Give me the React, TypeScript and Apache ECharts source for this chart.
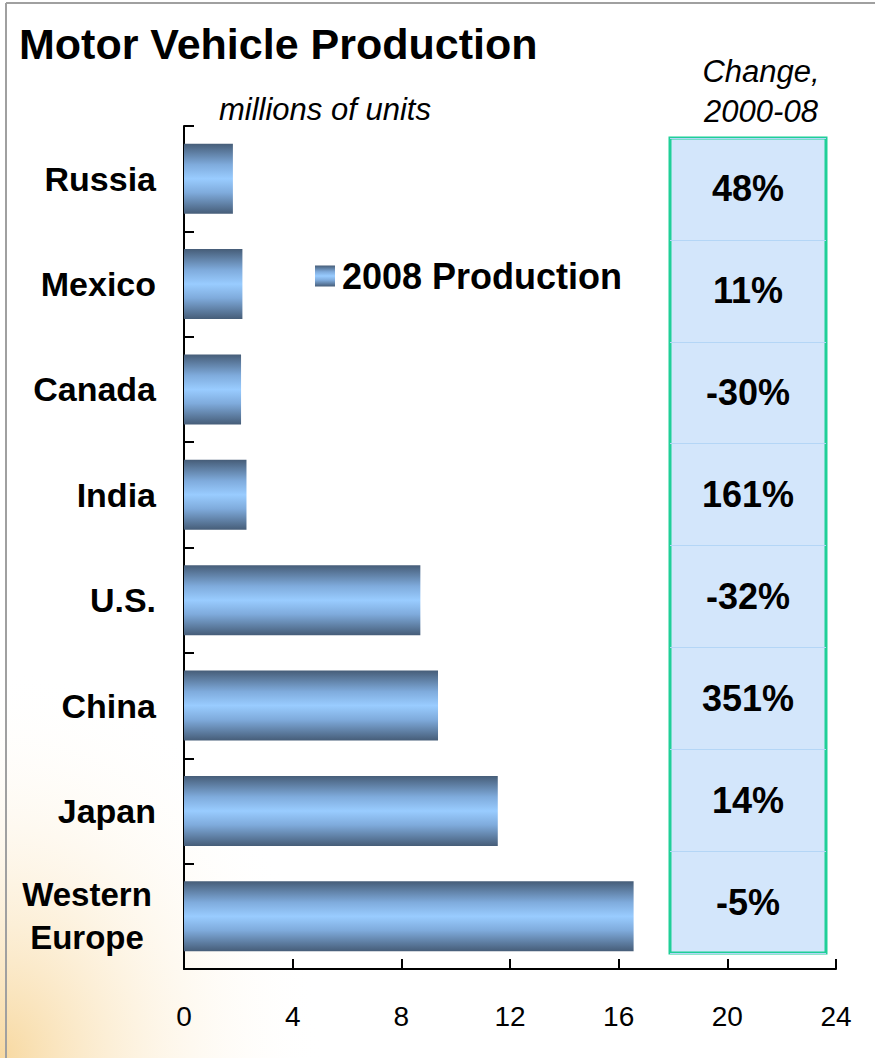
import React, { useEffect, useRef } from "react";
import * as echarts from "echarts";

const categories = ["Russia", "Mexico", "Canada", "India", "U.S.", "China", "Japan", "Western Europe"];
const production2008 = [1.8, 2.15, 2.1, 2.3, 8.7, 9.35, 11.55, 16.55];
const changes2000to08 = ["48%", "11%", "-30%", "161%", "-32%", "351%", "14%", "-5%"];
const xMin = 0;
const xMax = 24;
const xInterval = 4;

const FONT = "'Liberation Sans', Arial, Helvetica, sans-serif";

export default function App() {
  const ref = useRef<HTMLDivElement>(null);

  useEffect(() => {
    document.body.style.margin = "0";
    const chart = echarts.init(ref.current!, null, { renderer: "svg" });

    const barGradient = new echarts.graphic.LinearGradient(0, 0, 0, 1, [
      { offset: 0, color: "#465d78" },
      { offset: 0.3, color: "#7fabdc" },
      { offset: 0.5, color: "#99ccff" },
      { offset: 0.7, color: "#7fabdc" },
      { offset: 1, color: "#465d78" },
    ]);

    const option: any = {
      animation: false,
      textStyle: { fontFamily: FONT },
      graphic: [
        {
          type: "rect",
          z: -100,
          silent: true,
          shape: { x: 0, y: 0, width: 875, height: 1058 },
          style: {
            fill: new echarts.graphic.RadialGradient(0, 1, 0.37, [
              { offset: 0, color: "rgba(244,200,120,0.7)" },
              { offset: 0.5, color: "rgba(250,225,180,0.3)" },
              { offset: 1, color: "rgba(255,255,255,0)" },
            ]),
          },
        },
        {
          type: "line",
          silent: true,
          shape: { x1: 6, y1: 3, x2: 875, y2: 3 },
          style: { stroke: "#a0a0a0", lineWidth: 2 },
        },
        {
          type: "line",
          silent: true,
          shape: { x1: 6, y1: 3, x2: 6, y2: 1058 },
          style: { stroke: "#a0a0a0", lineWidth: 2 },
        },
        {
          type: "text",
          left: 19,
          top: 22,
          silent: true,
          style: { text: "Motor Vehicle Production", font: `bold 43px ${FONT}`, fill: "#000" },
        },
        {
          type: "text",
          left: 219,
          top: 94,
          silent: true,
          style: { text: "millions of units", font: `italic 31px ${FONT}`, fill: "#000" },
        },
        {
          type: "text",
          x: 761,
          y: 91,
          silent: true,
          style: {
            text: "Change,\n2000-08",
            font: `italic 31px ${FONT}`,
            fill: "#000",
            align: "center",
            verticalAlign: "middle",
            lineHeight: 40,
          },
        },
      ],
      legend: {
        data: ["2008 Production"],
        left: 310,
        top: 253,
        icon: "rect",
        itemWidth: 20,
        itemHeight: 21,
        selectedMode: false,
        textStyle: {
          fontSize: 36,
          fontWeight: "bold",
          color: "#000",
          fontFamily: FONT,
          padding: [0, 0, 0, 2],
        },
      },
      grid: [
        { left: 184, right: 39, top: 126, bottom: 89, containLabel: false },
        {
          left: 670,
          right: 49,
          top: 138,
          bottom: 105,
          show: true,
          backgroundColor: "#d3e6fb",
          borderColor: "#1fcf98",
          borderWidth: 3,
        },
      ],
      xAxis: [
        {
          type: "value",
          gridIndex: 0,
          min: xMin,
          max: xMax,
          interval: xInterval,
          splitLine: { show: false },
          axisLine: { show: true, lineStyle: { color: "#000", width: 2 } },
          axisTick: { show: true, inside: true, length: 10, lineStyle: { color: "#000", width: 2 } },
          axisLabel: { fontSize: 28, color: "#000", margin: 33, fontFamily: FONT },
        },
        { type: "value", gridIndex: 1, min: 0, max: 1, show: false },
      ],
      yAxis: [
        {
          type: "category",
          gridIndex: 0,
          data: categories,
          inverse: true,
          axisLine: { show: true, lineStyle: { color: "#000", width: 2 } },
          axisTick: { show: true, inside: true, length: 10, lineStyle: { color: "#000", width: 2 } },
          axisLabel: {
            fontSize: 34,
            fontWeight: "bold",
            color: "#000",
            margin: 28,
            fontFamily: FONT,
            formatter: (v: string) => {
              const parts = v.split(" ");
              if (parts.length > 1) return parts.map((p) => `{c|${p}}`).join("\n");
              return v;
            },
            rich: {
              c: {
                width: 138,
                align: "center",
                fontSize: 33,
                fontWeight: "bold",
                lineHeight: 43,
                color: "#000",
                fontFamily: FONT,
              },
            },
          },
        },
        {
          type: "category",
          gridIndex: 1,
          data: categories,
          inverse: true,
          axisLine: { show: false },
          axisTick: { show: false },
          axisLabel: { show: false },
          splitLine: { show: true, lineStyle: { color: "#b4d6f6", width: 1 } },
        },
      ],
      series: [
        {
          name: "2008 Production",
          type: "bar",
          xAxisIndex: 0,
          yAxisIndex: 0,
          data: production2008,
          barWidth: 70,
          itemStyle: { color: barGradient },
          silent: true,
        },
        {
          name: "Change, 2000-08",
          type: "scatter",
          xAxisIndex: 1,
          yAxisIndex: 1,
          symbolSize: 0,
          itemStyle: { color: "#d3e6fb", opacity: 1 },
          silent: true,
          z: 5,
          data: categories.map((c) => [0.5, c]),
          label: {
            show: true,
            position: "inside",
            formatter: (p: any) => changes2000to08[p.dataIndex],
            fontSize: 36,
            fontWeight: "bold",
            color: "#000",
            opacity: 1,
            textBorderWidth: 0,
            fontFamily: FONT,
          },
        },
      ],
    };

    chart.setOption(option);
    return () => chart.dispose();
  }, []);

  return <div ref={ref} style={{ width: 875, height: 1058 }} />;
}
